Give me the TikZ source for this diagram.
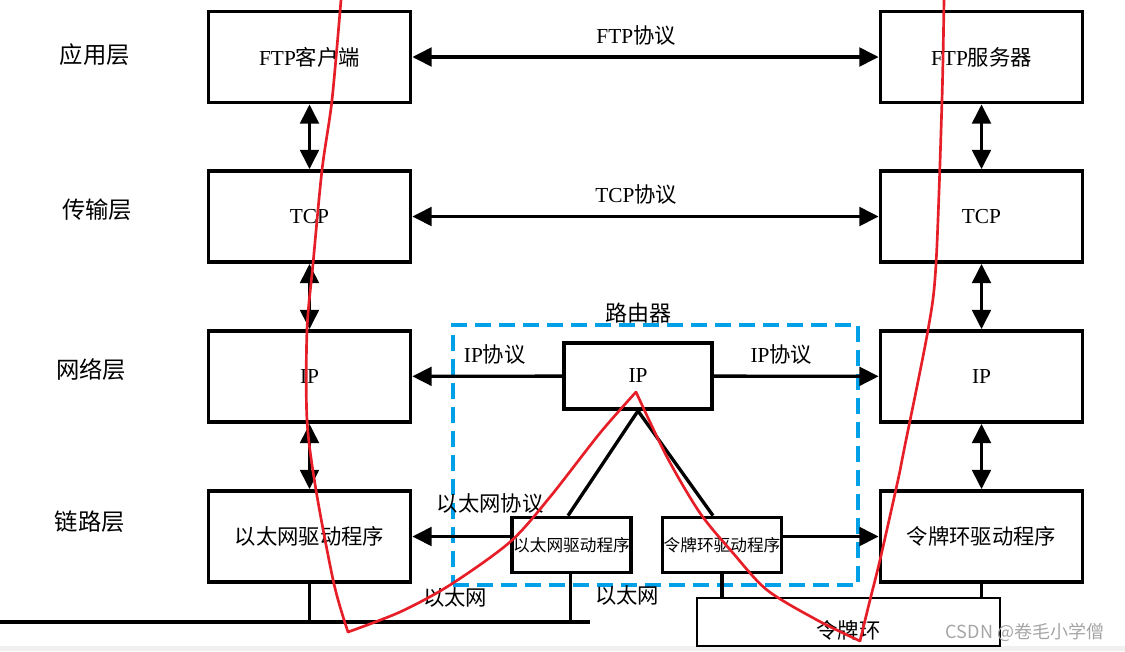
\documentclass[tikz,border=0pt]{standalone}
\usepackage{fontspec}
\setmainfont{Liberation Serif}
\newfontfamily\cjk{Noto Sans CJK SC}
\usetikzlibrary{arrows.meta}

\definecolor{routerblue}{RGB}{0,160,233}
\definecolor{markred}{RGB}{230,30,40}
\definecolor{stripgray}{RGB}{240,240,240}
\definecolor{markgray}{RGB}{165,165,165}

\tikzset{every picture/.style={line width=0.75pt}}
\tikzset{
  layerbox/.style={draw,line width=2.8pt,minimum width=151.5pt,minimum height=68.25pt,inner sep=0pt,font=\fontsize{16}{18}\selectfont},
  drvbox/.style={draw,line width=2.8pt,minimum width=89.25pt,minimum height=41.25pt,inner sep=0pt,font=\cjk\fontsize{12.5}{14}\selectfont},
  layername/.style={inner sep=0.75pt,font=\cjk\fontsize{17.5}{19}\selectfont},
  proto/.style={inner sep=0.75pt,font=\fontsize{16}{18}\selectfont},
  arr/.style={line width=2.5pt,-{Triangle[length=14.5pt,width=14pt]}},
  dblarr/.style={line width=2.5pt,{Triangle[length=14.5pt,width=14pt]}-{Triangle[length=14.5pt,width=14pt]}},
  plain/.style={line width=2.5pt},
  markline/.style={draw=markred,line width=2pt,line cap=round,line join=round}
}

\begin{document}
\begin{tikzpicture}[x=0.75pt,y=0.75pt,yscale=-1,xscale=1]
  \useasboundingbox (0,0) rectangle (1125,651);
  \fill[stripgray] (0,646) rectangle (1125,651);

  %Layer names
  \node[layername] (appname) at (95,55) {应用层};
  \node[layername] (tptname) at (97,210) {传输层};
  \node[layername] (netname) at (91,370) {网络层};
  \node[layername] (lnkname) at (90,522) {链路层};

  %Shape: host on the left
  \node[layerbox] (ftpc) at (309.5,57) {FTP{\cjk 客户端}};
  \node[layerbox] (tcpl) at (309.5,216.5) {TCP};
  \node[layerbox] (ipl) at (309.5,376.5) {IP};
  \node[layerbox] (ethl) at (309.5,536.5) {\cjk 以太网驱动程序};

  %Shape: host on the right
  \node[layerbox] (ftps) at (981.5,57) {FTP{\cjk 服务器}};
  \node[layerbox] (tcpr) at (981.5,216.5) {TCP};
  \node[layerbox] (ipr) at (981.5,376.5) {IP};
  \node[layerbox] (ringl) at (981.5,536.5) {\cjk 令牌环驱动程序};

  %Shape: router
  \node[draw=routerblue,dashed,dash pattern=on 12pt off 6pt,line width=2.4pt,minimum width=303.75pt,minimum height=195pt] (router) at (655.5,455) {};
  \node[layername,font=\cjk\fontsize{16.5}{18}\selectfont] (routername) at (638,313) {路由器};
  \node[layerbox,minimum width=111pt,minimum height=49.5pt] (rip) at (638,376) {IP};
  \node[drvbox] (ethd) at (571.5,545) {以太网驱动程序};
  \node[drvbox] (tokd) at (722,545) {令牌环驱动程序};

  %Shape: networks
  \coordinate (busw) at (0,622);
  \coordinate (buse) at (590,622);
  \node[draw,line width=0.9pt,minimum width=227.25pt,minimum height=36pt,font=\cjk\fontsize{16}{18}\selectfont,text height=26pt,text depth=2pt,inner ysep=0pt] (ring) at (848.5,622) {令牌环};

  %Arrows between layers
  \draw[dblarr] (ftpc) -- (tcpl);
  \draw[dblarr] (tcpl) -- (ipl);
  \draw[dblarr] (ipl) -- (ethl);
  \draw[dblarr] (ftps) -- (tcpr);
  \draw[dblarr] (tcpr) -- (ipr);
  \draw[dblarr] (ipr) -- (ringl);

  %Peer protocols
  \draw[dblarr] (ftpc) -- node[proto,above=7pt,pos=0.48] (ftpproto) {FTP{\cjk 协议}} (ftps);
  \draw[dblarr] (tcpl) -- node[proto,above=7pt,pos=0.48] (tcpproto) {TCP{\cjk 协议}} (tcpr);
  \draw[arr] (rip) -- node[proto,above=7pt,pos=0.45] (ipprotol) {IP{\cjk 协议}} (ipl);
  \draw[arr] (rip) -- node[proto,above=7pt,pos=0.41] (ipprotor) {IP{\cjk 协议}} (ipr);
  \draw[arr] (ethd.west |- ethl.east) -- (ethl.east);
  \draw[arr] (tokd.east |- ringl.west) -- (ringl.west);
  \node[proto,font=\cjk\fontsize{16}{18}\selectfont] (ethproto) at (490,503) {以太网协议};

  %Router inside
  \draw[plain] (rip.south) -- ([xshift=-2.6pt]ethd.north);
  \draw[plain] (rip.south) -- ([xshift=-6.75pt]tokd.north);

  %Links to the networks
  \draw[plain] (busw) -- (buse);
  \draw[plain] (ethl.south) -- (ethl.south |- busw);
  \draw[plain] ([xshift=-1pt]ethd.south) -- ([xshift=-1pt]ethd.south |- busw);
  \draw[plain] (tokd.south) -- (tokd.south |- ring.north);
  \draw[plain] (ringl.south) -- (ringl.south |- ring.north);
  \node[proto,font=\cjk\fontsize{16}{18}\selectfont] (ethnet1) at (455,597) {以太网};
  \node[proto,font=\cjk\fontsize{16}{18}\selectfont] (ethnet2) at (627,595) {以太网};

  %Red marks
  \draw[markline] plot[smooth] coordinates {(341,0) (332,100) (322,170) (313,264) (307,330) (307,420) (316,490) (334,584) (348,632)};
  \draw[markline] plot[smooth] coordinates {(348,632) (400,612) (450,585) (510,542) (550,497) (600,433) (636,392)};
  \draw[markline] plot[smooth] coordinates {(636,392) (667,457) (700,513) (733,553) (767,590) (817,620) (860,641)};
  \draw[markline] plot[smooth] coordinates {(860,641) (870,600) (880,560) (898,480) (904,450) (928,330) (936,264) (942,100) (944,0)};

  %Watermark
  \node[inner sep=0pt,text=markgray,font=\cjk\fontsize{13.5}{15}\selectfont] (mark) at (1025,632) {CSDN @卷毛小学僧};
\end{tikzpicture}
\end{document}
